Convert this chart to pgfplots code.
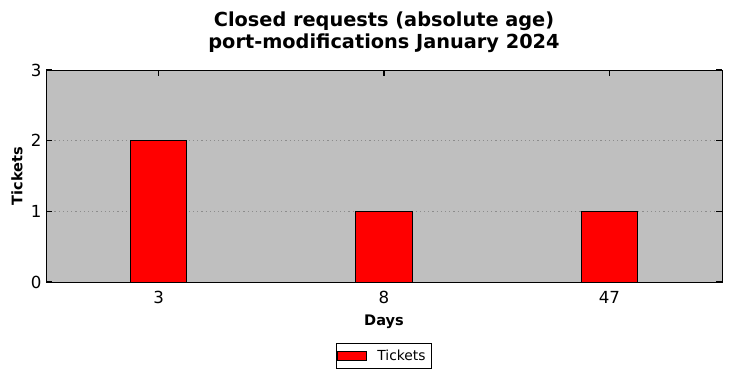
\documentclass[border=0pt]{standalone}
\usepackage{fontspec}
\setmainfont{DejaVu Sans}
\usepackage{pgfplots}
\pgfplotsset{compat=1.18}
\definecolor{bgray}{RGB}{191,191,191}
\begin{document}
\begin{tikzpicture}
\begin{axis}[
  set layers=standard,
  scale only axis,
  width=676bp, height=212bp,
  xmin=-0.5, xmax=2.5,
  ymin=0, ymax=3,
  xtick={0,1,2},
  xticklabels={3,8,47},
  ytick={0,1,2,3},
  xtick pos=both, ytick pos=both,
  tick align=inside,
  major tick length=6bp,
  tickwidth=6bp,
  major tick style={black, line width=1.2bp},
  axis line style={black, line width=1bp},
  ymajorgrids,
  major grid style={gray!90, line width=0.6bp, dash pattern=on 1.2bp off 3bp},
  /pgf/number format/assume math mode=true,
  tick label style={font=\fontsize{16.7}{20}\selectfont},
  xticklabel style={yshift=-6bp},
  yticklabel style={xshift=-1bp},
  title={Closed requests (absolute age)\\port-modifications January 2024},
  title style={at={(axis description cs:0.5,1.15)}, anchor=center, align=center, font=\fontsize{19.4}{22}\selectfont\bfseries},
  xlabel={Days},
  ylabel={Tickets},
  xlabel style={at={(axis description cs:0.5,0)}, anchor=center, yshift=-40bp, font=\fontsize{14.6}{17}\selectfont\bfseries},
  ylabel style={at={(axis description cs:-0.0429,0.5)}, anchor=center, font=\fontsize{14.6}{17}\selectfont\bfseries},
  legend style={at={(axis description cs:0.5,-0.2877)}, anchor=north, draw=black, line width=0.8bp, fill=white,
    font=\fontsize{13.9}{16}\selectfont, inner xsep=1bp, inner ysep=1bp,
    nodes={inner xsep=5bp, inner ysep=5.5bp}},
  legend image code/.code={\draw[#1, draw=black, line width=0.8bp] (4bp,-4.65bp) rectangle (33bp,4.65bp); \path (38bp,0bp);},
]
\begin{pgfonlayer}{axis background}
\fill[bgray] (rel axis cs:0,0) rectangle (rel axis cs:1,1);
\end{pgfonlayer}
\addplot[ybar, bar width=0.25, fill=red, draw=black, line width=1bp] coordinates {(0,2) (1,1) (2,1)};
\addlegendentry{Tickets}
\end{axis}
\pgfresetboundingbox
\path (current axis.south west) ++(-46bp,-96bp) rectangle ++(731bp,378bp);
\end{tikzpicture}
\end{document}
